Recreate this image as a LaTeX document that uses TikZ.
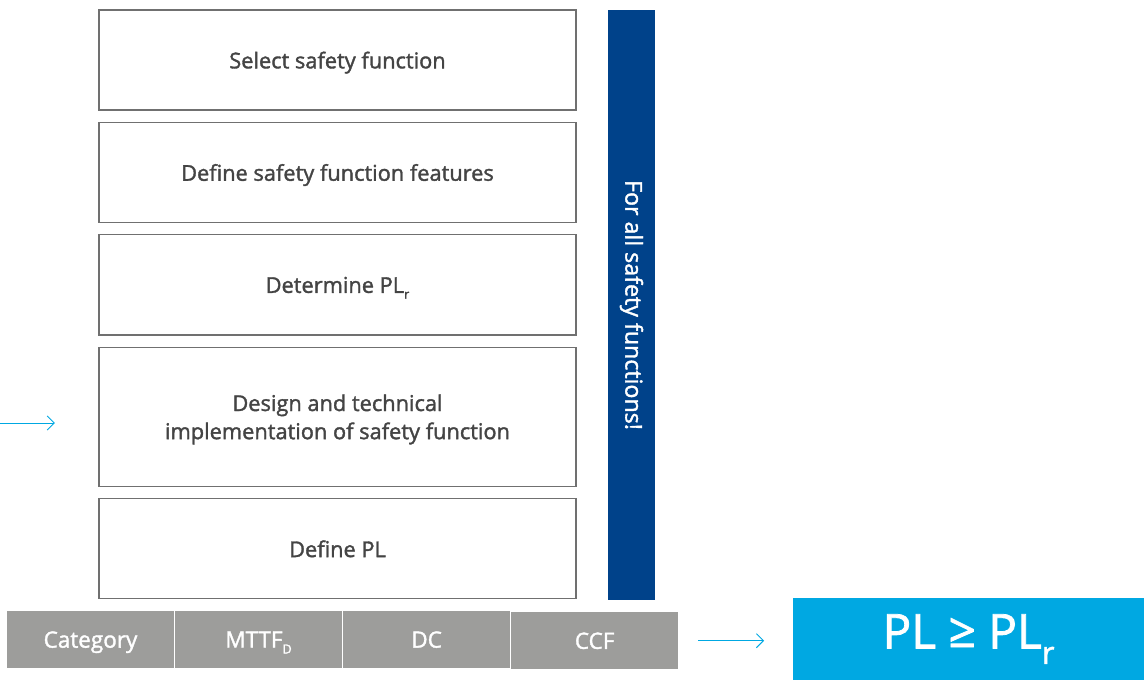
\documentclass[tikz,border=0pt]{standalone}
\usepackage{fontspec}
\setmainfont{Open Sans}[FakeBold=1.6]
\newfontfamily\medfont{Open Sans}[FakeBold=1.6]
\usepackage{tikz}
\usetikzlibrary{arrows.meta,positioning}
\definecolor{txtgray}{HTML}{444444}
\definecolor{linegray}{HTML}{707070}
\definecolor{cellgray}{HTML}{9D9D9B}
\definecolor{barblue}{HTML}{00428A}
\definecolor{plcyan}{HTML}{00A8E2}
\tikzstyle{stepbox} = [rectangle,draw=linegray,line width=0.9pt,outer sep=0,minimum width=11.925cm,minimum height=2.5cm,align=center,text depth=0pt,text=txtgray,font=\medfont\fontsize{15.5}{20}\selectfont]
\tikzstyle{cell} = [rectangle,fill=cellgray,outer sep=0,minimum width=4.175cm,minimum height=1.425cm,text depth=0pt,text=white,font=\medfont\fontsize{16}{19}\selectfont]
\tikzstyle{flow} = [draw=plcyan,line width=0.7pt,-{Straight Barb[length=5pt,width=10pt]}]
\newcommand{\lowsub}[1]{\raisebox{-0.5ex}{\fontsize{9}{9}\selectfont #1}}

\begin{document}
\begin{tikzpicture}[x=0.025cm,y=0.025cm]
	\useasboundingbox (0,0) rectangle (1144,-680);
	\begin{scope}[node distance=0.31cm]
		\node[stepbox] (select) at (337.5,-60) {Select safety function};
		\node[stepbox] (features) [below=of select] {Define safety function features};
		\node[stepbox] (determine) [below=of features] {Determine PL\lowsub{r}};
		\node[stepbox,minimum height=3.475cm] (design) [below=of determine] {Design and technical\\implementation of safety function};
		\node[stepbox] (define) [below=of design] {Define PL};
	\end{scope}
	
	\node[rectangle,fill=barblue,minimum width=1.175cm,minimum height=14.75cm,outer sep=0] (bar) at (631.5,-305) {};
	\node[rotate=-90,text=white,font=\medfont\fontsize{16.5}{19}\selectfont] (barlabel) at (bar.center) {For all safety functions!};
	
	\begin{scope}[node distance=0.025cm]
		\node[cell] (category) at (90.5,-639.5) {Category};
		\node[cell] (mttf) [right=of category] {MTTF\lowsub{D}};
		\node[cell] (dc) [right=of mttf] {DC};
		\node[cell,yshift=-0.03cm] (ccf) [right=of dc] {CCF};
	\end{scope}
	
	\node[rectangle,fill=plcyan,outer sep=0,minimum width=8.775cm,minimum height=2.05cm,text=white,font=\fontsize{34}{40}\selectfont] (plbox) at (968.5,-639) {PL \raisebox{0.05ex}{≥} PL\raisebox{-0.6ex}{\fontsize{22}{22}\selectfont r}};
	
	\coordinate (leftin) at (0,-423);
	\draw[flow,shorten >=1.1cm] (leftin) -- (leftin -| design.west);
	\draw[flow,shorten <=0.5cm,shorten >=0.72cm] (ccf.east) -- (ccf.east -| plbox.west);
\end{tikzpicture}
\end{document}
